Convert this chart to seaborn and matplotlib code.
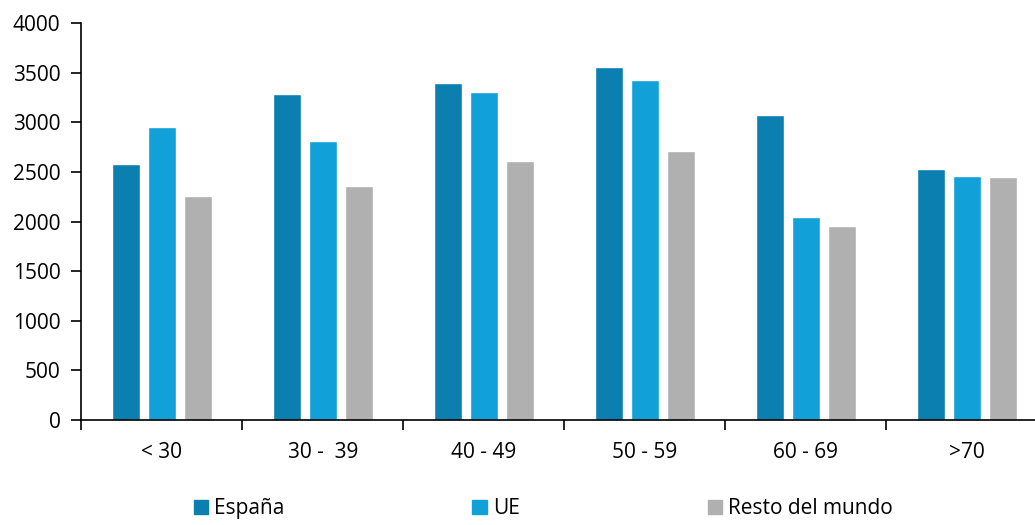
import pandas as pd
import matplotlib
matplotlib.use('Agg')
import matplotlib.pyplot as plt
import seaborn as sns
from matplotlib.patches import Patch

grupos = ['< 30', '30 -  39', '40 - 49', '50 - 59', '60 - 69', '>70']
espana = [2580, 3285, 3395, 3555, 3075, 2530]
ue = [2950, 2810, 3310, 3425, 2045, 2460]
resto = [2255, 2355, 2610, 2710, 1955, 2450]
series = ['España', 'UE', 'Resto del mundo']
colores = ['#0b80b0', '#12a0d8', '#b0b0b0']

df = pd.DataFrame({'grupo': grupos * 3,
                   'valor': espana + ue + resto,
                   'serie': [s for s in series for _ in grupos]})

sns.set_style('white')
plt.rcParams['font.family'] = ['Open Sans', 'DejaVu Sans']
fs = 15

fig = plt.figure(figsize=(10.35, 5.25), dpi=100)
# the axis runs a bit past the right edge of the picture, as in the original
ax = fig.add_axes([0.0785, 0.2, 0.9333, 0.756])
sns.barplot(data=df, x='grupo', y='valor', hue='serie', palette=colores,
            saturation=1, width=0.671, gap=0.222, ax=ax, legend=False)

ax.set_ylim(0, 4000)
ax.set_xlim(-0.5, 5.5)
ax.set_yticks(range(0, 4001, 500))
ax.set_xlabel('')
ax.set_ylabel('')
sns.despine(ax=ax)
for sp in ['left', 'bottom']:
    ax.spines[sp].set_color('black')
    ax.spines[sp].set_linewidth(1.2)

# category labels in the middle, ticks between categories
ax.set_xticks([i - 0.5 for i in range(7)])
ax.set_xticklabels([''] * 7)
ax.set_xticks(range(6), minor=True)
ax.set_xticklabels(grupos, minor=True)
ax.tick_params(axis='x', which='major', length=7, width=1.2, color='black', direction='out')
ax.tick_params(axis='x', which='minor', length=0, pad=16, labelsize=fs, labelcolor='black')
ax.tick_params(axis='y', length=7, width=1.2, color='black', direction='out', pad=8,
               labelsize=fs, labelcolor='black')
ax.tick_params(bottom=True, left=True, which='both')

handles = [Patch(color=c, label=s) for c, s in zip(colores, series)]
fig.legend(handles=handles, loc='lower center', ncol=3, frameon=False,
           bbox_to_anchor=(0.525, -0.025), handlelength=0.7, handleheight=0.7,
           handletextpad=0.3, columnspacing=9.0, fontsize=fs, labelcolor='black')

plt.savefig('out.png', dpi=100)
